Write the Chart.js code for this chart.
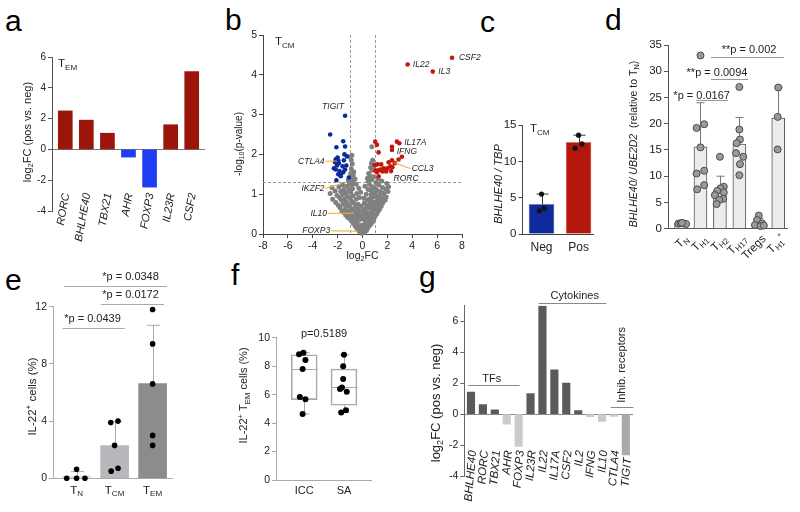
<!DOCTYPE html>
<html>
<head>
<meta charset="utf-8">
<title>Figure</title>
<script src="https://cdn.jsdelivr.net/npm/chart.js@4.4.1/dist/chart.umd.min.js"></script>
<style>
  body { margin: 0; background: #fff; }
  #fig { position: relative; width: 800px; height: 512px; overflow: hidden; font-family: "Liberation Sans", Arial, sans-serif; }
  #fig canvas { position: absolute; }
  .letter { position: absolute; font-size: 30px; line-height: 30px; color: #000; }
</style>
</head>
<body>
<div id="fig">
  <div class="letter" style="left:5px;top:6px">a</div>
  <div class="letter" style="left:225px;top:5px">b</div>
  <div class="letter" style="left:480px;top:7px">c</div>
  <div class="letter" style="left:605px;top:5px">d</div>
  <div class="letter" style="left:5px;top:265px">e</div>
  <div class="letter" style="left:231px;top:260px">f</div>
  <div class="letter" style="left:419px;top:262px">g</div>
  <canvas id="cA" width="210" height="255" style="left:0;top:0"></canvas>
  <canvas id="cB" width="285" height="270" style="left:205px;top:0"></canvas>
  <canvas id="cC" width="120" height="160" style="left:480px;top:100px"></canvas>
  <canvas id="cD" width="200" height="250" style="left:600px;top:20px"></canvas>
  <canvas id="cE" width="200" height="242" style="left:0;top:270px"></canvas>
  <canvas id="cF" width="200" height="242" style="left:200px;top:270px"></canvas>
  <canvas id="cG" width="230" height="242" style="left:420px;top:270px"></canvas>
</div>
<script>
// ---------- data ----------
// a: T_EM, log2FC pos vs neg
const aGenes = ['RORC', 'BHLHE40', 'TBX21', 'AHR', 'FOXP3', 'IL23R', 'CSF2'];
const aLogFC = [2.5, 1.9, 1.05, -0.5, -2.45, 1.6, 5.05];

// b: T_CM volcano [log2FC, -log10 p]
const bUp = [[3.63, 4.26], [5.65, 4.08], [7.2, 4.43], [1.02, 2.32], [1.16, 2.24], [2.77, 2.32], [2.96, 2.28],
  [2.37, 2.19], [2.37, 2.11], [1.29, 2.05], [3.17, 1.94], [2.9, 1.87], [2.37, 1.85], [2.1, 1.8], [1.2, 1.75],
  [1.5, 1.75], [2.25, 1.7], [2.4, 1.68], [1.7, 1.65], [2.0, 1.65], [1.05, 1.6], [1.3, 1.6], [2.3, 1.58],
  [1.6, 1.57], [1.9, 1.57], [1.3, 1.45], [1.0, 1.73], [1.45, 1.62], [2.6, 1.78], [1.15, 1.55]];
const bDown = [[-1.4, 2.97], [-2.6, 2.5], [-1.55, 2.33], [-1.4, 2.2], [-2.1, 2.18], [-2.0, 1.92], [-2.15, 1.88],
  [-1.95, 1.85], [-2.2, 1.8], [-1.9, 1.78], [-1.5, 1.85], [-1.3, 1.72], [-1.6, 1.7], [-2.05, 1.72], [-2.15, 1.62],
  [-1.85, 1.58], [-1.95, 1.5], [-1.7, 1.52], [-1.55, 1.55], [-1.4, 1.62], [-2.1, 1.35], [-1.1, 1.42],
  [-1.75, 1.45], [-1.45, 2.0], [-2.3, 1.65], [-1.25, 1.95]];
const bGray = [
  [-0.05, 0.02], [0.08, 0.03], [-0.18, 0.05], [0.2, 0.06], [-0.3, 0.08], [0.32, 0.09], [0.02, 0.1], [-0.12, 0.12], [0.15, 0.12],
  [-0.45, 0.14], [0.42, 0.15], [-0.25, 0.17], [0.28, 0.18], [-0.6, 0.2], [0.55, 0.21], [-0.1, 0.22], [0.1, 0.23], [-0.38, 0.24], [0.68, 0.25],
  [-0.75, 0.27], [0.4, 0.28], [-0.52, 0.3], [0.8, 0.3], [-0.9, 0.33], [0.22, 0.33], [-0.28, 0.35], [0.58, 0.36], [-0.65, 0.37],
  [0.92, 0.38], [-1.05, 0.39], [0.05, 0.38], [-0.15, 0.4], [0.35, 0.4],
  [-1.2, 0.42], [0.72, 0.42], [-0.82, 0.44], [1.02, 0.45], [-0.45, 0.46], [0.48, 0.47], [-1.35, 0.48], [0.85, 0.49], [-0.98, 0.5],
  [1.15, 0.51], [-0.6, 0.52], [0.62, 0.53], [-1.5, 0.54], [0.3, 0.54], [-0.3, 0.55],
  [-1.65, 0.57], [1.25, 0.57], [-1.12, 0.58], [0.78, 0.59], [-0.75, 0.6], [0.98, 0.61], [-1.4, 0.62], [1.38, 0.63], [-0.9, 0.64],
  [0.5, 0.65], [-1.8, 0.66], [1.12, 0.67], [-0.55, 0.68], [0.68, 0.69], [-1.25, 0.7], [1.5, 0.7],
  [-1.95, 0.72], [0.9, 0.72], [-1.05, 0.73], [1.28, 0.74], [-1.55, 0.75], [0.58, 0.76], [-0.7, 0.77], [1.62, 0.78], [-2.15, 0.79],
  [1.05, 0.8], [-1.3, 0.81], [0.75, 0.82], [-0.88, 0.83], [1.42, 0.84], [-1.7, 0.85], [1.82, 0.85],
  [-2.4, 0.87], [1.2, 0.87], [-1.45, 0.88], [0.62, 0.89], [-1.0, 0.9], [1.55, 0.91], [-1.85, 0.92], [0.85, 0.93], [-1.2, 0.94],
  [1.9, 0.93], [-0.78, 0.96], [1.35, 0.96], [-2.05, 0.97], [1.05, 0.98], [-1.6, 0.99], [0.7, 1.0],
  [-2.6, 1.02], [1.7, 1.02], [-1.35, 1.03], [0.95, 1.04], [-0.95, 1.05], [1.45, 1.06], [-1.75, 1.07], [2.05, 1.07], [-2.2, 1.08],
  [1.2, 1.09], [-1.1, 1.1], [0.65, 1.11], [-1.5, 1.12], [1.85, 1.13], [-0.8, 1.14], [1.0, 1.15],
  [-2.45, 1.16], [1.6, 1.17], [-1.9, 1.18], [0.8, 1.19], [-1.25, 1.2], [2.1, 1.19], [-0.9, 1.22], [1.3, 1.23], [-1.6, 1.24],
  [0.55, 1.25], [-0.7, 1.27], [1.95, 1.27], [-1.05, 1.28], [1.1, 1.29],
  [-0.85, 1.32], [0.45, 1.33], [-1.15, 1.35], [0.75, 1.36], [-0.6, 1.38], [1.25, 1.38], [0.4, 1.4], [-0.95, 1.42], [0.9, 1.44],
  [0.6, 1.46], [-0.75, 1.48], [1.55, 1.33],
  [-0.95, 1.52], [0.5, 1.52], [-0.7, 1.56], [0.78, 1.6], [-0.9, 1.64], [0.65, 1.67], [0.88, 1.72], [-0.82, 1.76], [0.72, 1.78],
  [-0.9, 1.86], [-1.0, 1.94], [0.82, 1.85], [0.75, 2.19], [-0.85, 1.98],
  [-0.4, 0.62], [-0.2, 0.58], [0.05, 0.6], [0.25, 0.64], [-0.35, 0.75], [-0.1, 0.7], [0.15, 0.78], [0.35, 0.72], [-0.5, 0.88],
  [-0.25, 0.92], [0.1, 0.9], [0.4, 0.86], [-0.45, 1.02], [-0.15, 1.05], [0.3, 1.0], [0.45, 1.12], [-0.3, 1.15], [0.2, 1.2],
  [-0.5, 1.25], [0.0, 0.45], [-0.5, 0.35], [0.15, 0.5], [-0.2, 0.48]];
const bXTicks = [-8, -6, -4, -2, 0, 2, 4, 6, 8];
const bNotes = [
  { g: 'TIGIT', x: -1.5, y: 3.2, side: 'right' },
  { g: 'CTLA4', x: -3.05, y: 1.83, side: 'right', to: [-2.05, 1.83] },
  { g: 'IKZF2', x: -3.05, y: 1.15, side: 'right', to: [-1.7, 1.26] },
  { g: 'IL10', x: -2.85, y: 0.52, side: 'right', to: [-0.72, 0.52] },
  { g: 'FOXP3', x: -2.6, y: 0.08, side: 'right', to: [-0.38, 0.07] },
  { g: 'IL22', x: 4.05, y: 4.26, side: 'left' },
  { g: 'IL3', x: 6.1, y: 4.08, side: 'left' },
  { g: 'CSF2', x: 7.75, y: 4.43, side: 'left' },
  { g: 'IL17A', x: 3.35, y: 2.3, side: 'left' },
  { g: 'IFNG', x: 2.75, y: 2.06, side: 'left' },
  { g: 'CCL3', x: 3.95, y: 1.64, side: 'left', to: [2.5, 1.8] },
  { g: 'RORC', x: 2.5, y: 1.4, side: 'left' }];

// c: BHLHE40 / TBP in T_CM
const cGroups = ['Neg', 'Pos'];
const cMean = [4.07, 12.6];
const cErrTop = [5.5, 13.6];
const cPtsY = [[5.5, 3.2, 3.56], [13.6, 11.8, 12.4]];
const cPtsDx = [[0, -0.06, 0.07], [0, -0.09, 0.09]];

// d: BHLHE40/UBE2D2 by subset
const dGroups = [[['T', 0], ['N', 1]], [['T', 0], ['H1', 1]], [['T', 0], ['H2', 1]], [['T', 0], ['H17', 1]], [['Tregs', 0]], [['T', 0], ['H1', 1], ['*', 2]]];
const dMean = [1.0, 15.6, 7.2, 16.1, 1.0, 21.1];
const dErrTop = [1.15, 24.0, 10.0, 21.2, 1.9, 26.9];
const dPtsY = [[0.95, 1.05, 1.0, 0.9, 1.1], [33, 19.9, 19.2, 15.5, 11.05, 10.5, 8.3, 7.5],
  [13.7, 8.0, 7.7, 7.2, 6.9, 6.4, 5.7, 5.5, 4.7], [27, 18.9, 17.0, 16.3, 14.4, 13.7, 12.3, 10.2],
  [2.5, 1.65, 1.0, 0.7, 0.5, 0.6], [26.9, 21.3, 15.1]];
const dPtsDx = [[-0.14, -0.02, 0.12, 0.26, 0.05], [0, 0.19, -0.2, 0, 0.19, -0.2, 0.19, -0.17],
  [0, 0.2, 0.03, -0.14, 0.2, -0.26, 0.17, -0.03, -0.17], [0, 0, 0.03, -0.14, -0.17, 0.2, 0.03, 0],
  [0, -0.09, 0.17, -0.2, 0.09, 0.26], [0, -0.03, -0.03]];
const dStats = [
  { x1: 0.78, x2: 2.43, y: 24.5, label: '*p = 0.0167', tx: 1.06, ty: 24.8 },
  { x1: 1.54, x2: 3.46, y: 28.5, label: '**p = 0.0094', tx: 1.85, ty: 29.1 },
  { x1: 1.54, x2: 5.3, y: 32.8, label: '**p = 0.002', tx: 3.5, ty: 33.4 }];

// e: IL-22+ cells
const eGroups = [[['T', 0], ['N', 1]], [['T', 0], ['CM', 1]], [['T', 0], ['EM', 1]]];
const eMean = [0.15, 2.28, 6.62];
const eErrTop = [0.47, 3.96, 10.7];
const ePtsY = [[0, 0, 0, 0.63], [3.9, 4.0, 2.3, 0.5, 0.7], [11.8, 9.4, 6.6, 3.0, 2.3]];
const ePtsDx = [[-0.26, 0, 0.22, 0], [-0.1, 0.09, 0, -0.09, 0.09], [0, 0, 0, 0, 0]];
const eStats = [
  { x1: -0.37, x2: 1.27, y: 10.5, label: '*p = 0.0439', tx: 0.42, ty: 10.9 },
  { x1: 0.64, x2: 2.3, y: 12.2, label: '*p = 0.0172', tx: 1.42, ty: 12.6 },
  { x1: -0.33, x2: 2.38, y: 13.45, label: '*p = 0.0348', tx: 1.42, ty: 13.85 }];

// f: IL-22+ TEM cells, ICC vs SA
const fGroups = ['ICC', 'SA'];
const fMin = [4.64, 4.75];
const fQ1 = [5.65, 5.25];
const fMed = [7.8, 6.55];
const fQ3 = [8.8, 7.8];
const fMax = [8.95, 8.8];
const fPtsY = [[8.95, 8.83, 8.43, 7.8, 5.83, 5.67, 4.64], [8.8, 8.0, 7.1, 6.5, 6.4, 6.2, 4.9, 4.75]];
const fPtsDx = [[-0.02, -0.13, 0.03, -0.04, -0.11, 0.03, -0.04], [0, -0.02, -0.02, -0.05, -0.1, 0.07, 0.05, -0.07]];

// g: log2FC pos vs neg by gene class
const gGenes = ['BHLHE40', 'RORC', 'TBX21', 'AHR', 'FOXP3', 'IL23R', 'IL22', 'IL17A', 'CSF2', 'IL2', 'IFNG', 'IL10', 'CTLA4', 'TIGIT'];
const gLogFC = [1.42, 0.62, 0.28, -0.65, -2.09, 1.33, 7.0, 2.86, 2.0, 0.23, -0.17, -0.47, -0.15, -2.63];
const gClasses = [
  { label: 'TFs', x1: -0.23, x2: 4.08, y: 1.85, tx: 1.75, ty: 2.06 },
  { label: 'Cytokines', x1: 5.67, x2: 11.36, y: 7.16, tx: 8.71, ty: 7.46 },
  { label: 'Inhib. receptors', x1: 11.73, x2: 13.63, y: 0.45, tx: 12.62, ty: 0.73, vertical: true }];

// ---------- helpers ----------
const FONT = '"Liberation Sans", Arial, sans-serif';
Chart.defaults.font.family = FONT;
Chart.defaults.color = '#222';
Chart.defaults.animation = false;
Chart.defaults.responsive = false;
Chart.defaults.plugins.legend.display = false;
Chart.defaults.plugins.tooltip.enabled = false;

// parts: [text, 0 normal | 1 sub | 2 sup, italic]
function rich(ctx, parts, x, y, size, align) {
  ctx.save();
  ctx.textBaseline = 'alphabetic';
  ctx.textAlign = 'left';
  let w = 0;
  const items = parts.map(([t, k, it]) => {
    const fs = k ? size * 0.7 : size;
    const font = (it ? 'italic ' : '') + fs + 'px ' + FONT;
    ctx.font = font;
    const item = { t, font, dx: w, dy: k === 1 ? size * 0.22 : k === 2 ? -size * 0.38 : 0 };
    w += ctx.measureText(t).width;
    return item;
  });
  const x0 = align === 'center' ? x - w / 2 : align === 'right' ? x - w : x;
  items.forEach(it => { ctx.font = it.font; ctx.fillText(it.t, x0 + it.dx, y + it.dy); });
  ctx.restore();
}

function vrich(ctx, parts, cx, cy, size) {
  ctx.save();
  ctx.translate(cx, cy);
  ctx.rotate(-Math.PI / 2);
  rich(ctx, parts, 0, size * 0.36, size, 'center');
  ctx.restore();
}

function yScale(min, max, step, width, size, color, extra) {
  return Object.assign({
    type: 'linear', min, max,
    ticks: { stepSize: step, font: { size }, padding: 2, color: '#222' },
    grid: { drawOnChartArea: false, tickLength: 4, color, tickColor: color },
    border: { color },
    afterFit: s => { s.width = width; }
  }, extra || {});
}

function pts(ys, dxs) {
  return ys.flatMap((g, i) => g.map((v, k) => ({ x: i + dxs[i][k], y: v })));
}

function errorBars(means, tops, color, cap) {
  return {
    id: 'errorBars',
    afterDatasetDraw(chart, args) {
      if (args.index !== 0) return;
      const { ctx, scales: { x, y } } = chart;
      ctx.save();
      ctx.strokeStyle = color;
      ctx.lineWidth = 1;
      means.forEach((m, i) => {
        const px = Math.round(x.getPixelForValue(i)) + 0.5, y0 = y.getPixelForValue(m), y1 = y.getPixelForValue(tops[i]);
        ctx.beginPath();
        ctx.moveTo(px, y0); ctx.lineTo(px, y1);
        ctx.moveTo(px - cap / 2, y1); ctx.lineTo(px + cap / 2, y1);
        ctx.stroke();
      });
      ctx.restore();
    }
  };
}

function statLines(ctx, x, y, list, color, size) {
  ctx.save();
  ctx.strokeStyle = color;
  ctx.lineWidth = 1;
  ctx.fillStyle = '#222';
  list.forEach(b => {
    const py = Math.round(y.getPixelForValue(b.y)) + 0.5;
    ctx.beginPath();
    ctx.moveTo(x.getPixelForValue(b.x1), py);
    ctx.lineTo(x.getPixelForValue(b.x2), py);
    ctx.stroke();
    rich(ctx, [[b.label, 0]], x.getPixelForValue(b.tx), y.getPixelForValue(b.ty), size, 'center');
  });
  ctx.restore();
}

// ---------- a ----------
new Chart(document.getElementById('cA'), {
  type: 'bar',
  data: {
    datasets: [{
      data: aLogFC.map((v, i) => ({ x: i, y: v })),
      backgroundColor: aLogFC.map(v => v >= 0 ? '#9b150b' : '#1f3df5'),
      barThickness: 14
    }]
  },
  options: {
    layout: { padding: { left: 0, top: 57, right: 5, bottom: 44 } },
    scales: {
      x: { type: 'linear', min: -0.63, max: 6.63, offset: false, display: false },
      y: yScale(-4, 6, 2, 52, 10, '#555', {
        grid: { drawOnChartArea: true, tickLength: 4, tickColor: '#555', color: c => c.tick && c.tick.value === 0 ? '#777' : 'rgba(0,0,0,0)' }
      })
    }
  },
  plugins: [{
    id: 'aText',
    afterDraw(chart) {
      const { ctx, scales: { x, y } } = chart;
      ctx.save();
      ctx.fillStyle = '#222';
      ctx.font = 'italic 11px ' + FONT;
      ctx.textAlign = 'right';
      ctx.textBaseline = 'middle';
      aGenes.forEach((g, i) => {
        ctx.save();
        ctx.translate(x.getPixelForValue(i) + 1, y.getPixelForValue(-2.85));
        ctx.rotate(-80 * Math.PI / 180);
        ctx.fillText(g, 0, 0);
        ctx.restore();
      });
      ctx.restore();
      ctx.fillStyle = '#222';
      rich(ctx, [['T', 0], ['EM', 1]], 58, 67, 11.5, 'left');
      vrich(ctx, [['log', 0], ['2', 1], ['FC (pos vs. neg)', 0]], 27, 132, 11);
    }
  }]
});

// ---------- b ----------
new Chart(document.getElementById('cB'), {
  type: 'scatter',
  data: {
    datasets: [
      { data: bUp.map(([x, y]) => ({ x, y })), backgroundColor: '#c4160c', borderWidth: 0, pointRadius: 2.3, order: 1, clip: false },
      { data: bDown.map(([x, y]) => ({ x, y })), backgroundColor: '#0b2a9e', borderWidth: 0, pointRadius: 2.3, order: 1, clip: false },
      { data: bGray.map(([x, y]) => ({ x, y })), backgroundColor: '#808080', borderWidth: 0, pointRadius: 2.5, order: 3, clip: false }
    ]
  },
  options: {
    layout: { padding: { left: 0, top: 35, right: 28, bottom: 16 } },
    scales: {
      x: {
        type: 'linear', min: -8, max: 8, offset: false,
        afterBuildTicks: s => { s.ticks = bXTicks.map(v => ({ value: v })); },
        ticks: { font: { size: 10.5 }, padding: 2, autoSkip: false, maxRotation: 0, color: '#222' },
        grid: { drawOnChartArea: false, tickLength: 4, color: '#444' },
        border: { color: '#444' },
        afterFit: s => { s.height = 20; }
      },
      y: yScale(0, 5, 1, 58, 10.5, '#444')
    }
  },
  plugins: [{
    id: 'bText',
    beforeDatasetsDraw(chart) {
      const { ctx, chartArea: a, scales: { x, y } } = chart;
      ctx.save();
      ctx.strokeStyle = '#9a9a9a';
      ctx.lineWidth = 1;
      ctx.setLineDash([3, 2]);
      [-1, 1].forEach(v => {
        const px = Math.round(x.getPixelForValue(v)) + 0.5;
        ctx.beginPath(); ctx.moveTo(px, a.top); ctx.lineTo(px, a.bottom); ctx.stroke();
      });
      const py = Math.round(y.getPixelForValue(1.3)) + 0.5;
      ctx.beginPath(); ctx.moveTo(a.left, py); ctx.lineTo(a.right, py); ctx.stroke();
      ctx.restore();
    },
    afterDraw(chart) {
      const { ctx, scales: { x, y } } = chart;
      ctx.save();
      ctx.font = 'italic 8.5px ' + FONT;
      ctx.textBaseline = 'middle';
      ctx.fillStyle = '#222';
      ctx.strokeStyle = '#f5a52a';
      ctx.lineWidth = 1;
      bNotes.forEach(n => {
        const px = x.getPixelForValue(n.x), py = y.getPixelForValue(n.y);
        ctx.textAlign = n.side;
        ctx.fillText(n.g, px, py);
        if (n.to) {
          const tx = x.getPixelForValue(n.to[0]), ty = y.getPixelForValue(n.to[1]);
          ctx.beginPath();
          ctx.moveTo(n.side === 'right' ? px + 1 : px - 1, py);
          ctx.lineTo(tx, ty);
          ctx.stroke();
        }
      });
      ctx.restore();
      ctx.fillStyle = '#222';
      rich(ctx, [['T', 0], ['CM', 1]], 70, 45, 11.5, 'left');
      vrich(ctx, [['-log', 0], ['10', 1], ['(p-value)', 0]], 33, 144, 10);
      rich(ctx, [['log', 0], ['2', 1], ['FC', 0]], x.getPixelForValue(0), 259, 10.5, 'center');
    }
  }]
});

// ---------- c ----------
new Chart(document.getElementById('cC'), {
  type: 'bar',
  data: {
    datasets: [
      { data: cMean.map((v, i) => ({ x: i, y: v })), backgroundColor: ['#0e2a9c', '#b3170b'], borderColor: ['#6f7fc9', '#d9776d'], borderWidth: 1, barThickness: 25, order: 2 },
      { type: 'scatter', data: pts(cPtsY, cPtsDx), backgroundColor: '#111', borderWidth: 0, pointRadius: 2.6, order: 1, clip: false }
    ]
  },
  options: {
    layout: { padding: { left: 0, top: 25, right: 7, bottom: 6 } },
    scales: {
      x: {
        type: 'linear', min: -0.514, max: 1.39, offset: false,
        afterBuildTicks: s => { s.ticks = cGroups.map((_, i) => ({ value: i })); },
        ticks: { callback: v => cGroups[v], font: { size: 12 }, padding: 6, color: '#222' },
        grid: { display: false, drawTicks: false },
        border: { color: '#444' },
        afterFit: s => { s.height = 20; }
      },
      y: yScale(0, 15, 5, 42.5, 11.5, '#444', { })
    }
  },
  plugins: [errorBars(cMean, cErrTop, '#333', 12), {
    id: 'cText',
    afterDraw(chart) {
      const { ctx } = chart;
      ctx.fillStyle = '#222';
      rich(ctx, [['T', 0], ['CM', 1]], 50, 32, 11.5, 'left');
      vrich(ctx, [['BHLHE40 / TBP', 0, true]], 18.5, 84, 11);
    }
  }]
});

// ---------- d ----------
new Chart(document.getElementById('cD'), {
  type: 'bar',
  data: {
    datasets: [
      { data: dMean.map((v, i) => ({ x: i, y: v })), backgroundColor: '#ececec', borderColor: '#555', borderWidth: 1, barThickness: 13, order: 2 },
      { type: 'scatter', data: pts(dPtsY, dPtsDx), backgroundColor: '#9a9a9a', borderColor: '#4a4a4a', borderWidth: 1, pointRadius: 3.5, order: 1, clip: false }
    ]
  },
  options: {
    layout: { padding: { left: 0, top: 25, right: 13, bottom: 41.3 } },
    scales: {
      x: {
        type: 'linear', min: -0.67, max: 5.45, offset: false,
        ticks: { display: false }, grid: { display: false },
        border: { color: '#555' },
        afterFit: s => { s.height = 0; }
      },
      y: yScale(0, 35, 5, 68, 11.5, '#555')
    }
  },
  plugins: [errorBars(dMean, dErrTop, '#777', 8), {
    id: 'dText',
    afterDraw(chart) {
      const { ctx, scales: { x, y } } = chart;
      statLines(ctx, x, y, dStats, '#999', 11);
      ctx.fillStyle = '#222';
      dGroups.forEach((parts, i) => {
        ctx.save();
        ctx.translate(x.getPixelForValue(i) + 5, y.bottom + 8);
        ctx.rotate(-Math.PI / 4);
        rich(ctx, parts, 0, 4, 11.5, 'right');
        ctx.restore();
      });
      vrich(ctx, [['BHLHE40/ UBE2D2', 0, true], ['  (relative to T', 0], ['N', 1], [')', 0]], 33, 124, 10.5);
    }
  }]
});

// ---------- e ----------
new Chart(document.getElementById('cE'), {
  type: 'bar',
  data: {
    datasets: [
      { data: eMean.map((v, i) => ({ x: i, y: v })), backgroundColor: ['#e0e0e0', '#b8b8bc', '#8c8c8c'], barThickness: 28, order: 2 },
      { type: 'scatter', data: pts(ePtsY, ePtsDx), backgroundColor: '#000', borderWidth: 0, pointRadius: 2.8, order: 1, clip: false }
    ]
  },
  options: {
    layout: { padding: { left: 0, top: 36.7, right: 28, bottom: 33.7 } },
    scales: {
      x: {
        type: 'linear', min: -0.62, max: 2.51, offset: false,
        ticks: { display: false }, grid: { display: false },
        border: { color: '#aaa' },
        afterFit: s => { s.height = 0; }
      },
      y: yScale(0, 12, 4, 53, 10.5, '#aaa')
    }
  },
  plugins: [errorBars(eMean, eErrTop, '#aaa', 13), {
    id: 'eText',
    afterDraw(chart) {
      const { ctx, scales: { x, y } } = chart;
      statLines(ctx, x, y, eStats, '#aaa', 11);
      ctx.fillStyle = '#222';
      eGroups.forEach((parts, i) => rich(ctx, parts, x.getPixelForValue(i), y.bottom + 15.5, 11.5, 'center'));
      vrich(ctx, [['IL-22', 0], ['+', 2], [' cells (%)', 0]], 31.5, 126.5, 11.5);
    }
  }]
});

// ---------- f ----------
new Chart(document.getElementById('cF'), {
  type: 'bar',
  data: {
    datasets: [
      { data: fQ1.map((q, i) => ({ x: i, y: [q, fQ3[i]] })), backgroundColor: 'rgba(0,0,0,0)', borderColor: '#aaa', borderWidth: 1, borderSkipped: false, barThickness: 26, order: 2 },
      { type: 'scatter', data: pts(fPtsY, fPtsDx), backgroundColor: '#000', borderWidth: 0, pointRadius: 3, order: 1, clip: false }
    ]
  },
  options: {
    layout: { padding: { left: 0, top: 67.7, right: 29, bottom: 12 } },
    scales: {
      x: {
        type: 'linear', min: -0.71, max: 1.68, offset: false,
        afterBuildTicks: s => { s.ticks = fGroups.map((_, i) => ({ value: i })); },
        ticks: { callback: v => fGroups[v], font: { size: 11 }, padding: 4, color: '#222' },
        grid: { display: false, drawTicks: false },
        border: { color: '#aaa' },
        afterFit: s => { s.height = 20; }
      },
      y: yScale(0, 10, 2, 76, 10.5, '#aaa')
    }
  },
  plugins: [{
    id: 'fBox',
    afterDatasetDraw(chart, args) {
      if (args.index !== 0) return;
      const { ctx, scales: { x, y } } = chart;
      ctx.save();
      ctx.strokeStyle = '#aaa';
      ctx.lineWidth = 1;
      fMed.forEach((m, i) => {
        const px = Math.round(x.getPixelForValue(i)) + 0.5;
        const seg = (x1, y1, x2, y2) => { ctx.beginPath(); ctx.moveTo(x1, y1); ctx.lineTo(x2, y2); ctx.stroke(); };
        const pm = Math.round(y.getPixelForValue(m)) + 0.5;
        seg(px - 13, pm, px + 13, pm);
        seg(px, y.getPixelForValue(fQ3[i]), px, y.getPixelForValue(fMax[i]));
        seg(px, y.getPixelForValue(fQ1[i]), px, y.getPixelForValue(fMin[i]));
        seg(px - 5, y.getPixelForValue(fMax[i]), px + 5, y.getPixelForValue(fMax[i]));
        seg(px - 5, y.getPixelForValue(fMin[i]), px + 5, y.getPixelForValue(fMin[i]));
      });
      ctx.restore();
    },
    afterDraw(chart) {
      const { ctx, scales: { x, y } } = chart;
      ctx.fillStyle = '#222';
      rich(ctx, [['p=0.5189', 0]], x.getPixelForValue(0.5), y.getPixelForValue(10.06), 11, 'center');
      vrich(ctx, [['IL-22', 0], ['+', 2], [' T', 0], ['EM', 1], [' cells (%)', 0]], 43.5, 125.5, 11);
    }
  }]
});

// ---------- g ----------
new Chart(document.getElementById('cG'), {
  type: 'bar',
  data: {
    datasets: [{
      data: gLogFC.map((v, i) => ({ x: i, y: v })),
      backgroundColor: gLogFC.map((v, i) => v >= 0 ? '#5a5a5a' : gGenes[i] === 'TIGIT' ? '#a9a9a9' : '#cbcbcb'),
      barThickness: 7.5
    }]
  },
  options: {
    layout: { padding: { left: 0, top: 35.8, right: 17, bottom: 36 } },
    scales: {
      x: { type: 'linear', min: -0.56, max: 13.6, offset: false, display: false },
      y: yScale(-4, 7, 2, 44.3, 10.5, '#666', {
        afterBuildTicks: s => { s.ticks = s.ticks.filter(t => t.value % 2 === 0); },
        grid: { drawOnChartArea: true, tickLength: 4, tickColor: '#666', color: c => c.tick && c.tick.value === 0 ? '#888' : 'rgba(0,0,0,0)' }
      })
    }
  },
  plugins: [{
    id: 'gText',
    afterDraw(chart) {
      const { ctx, scales: { x, y } } = chart;
      ctx.save();
      ctx.fillStyle = '#222';
      ctx.font = 'italic 11.5px ' + FONT;
      ctx.textAlign = 'right';
      ctx.textBaseline = 'middle';
      gGenes.forEach((g, i) => {
        const top = Math.max(y.getPixelForValue(-2.35), y.getPixelForValue(gLogFC[i]) + 3);
        ctx.save();
        ctx.translate(x.getPixelForValue(i) + 2, top);
        ctx.rotate(-85 * Math.PI / 180);
        ctx.fillText(g, 0, 0);
        ctx.restore();
      });
      ctx.restore();
      ctx.save();
      ctx.strokeStyle = '#888';
      ctx.lineWidth = 1;
      ctx.fillStyle = '#222';
      gClasses.forEach(c => {
        const py = Math.round(y.getPixelForValue(c.y)) + 0.5;
        ctx.beginPath(); ctx.moveTo(x.getPixelForValue(c.x1), py); ctx.lineTo(x.getPixelForValue(c.x2), py); ctx.stroke();
        if (c.vertical) {
          ctx.save();
          ctx.translate(x.getPixelForValue(c.tx), y.getPixelForValue(c.ty));
          ctx.rotate(-Math.PI / 2);
          rich(ctx, [[c.label, 0]], 0, 4, 11, 'left');
          ctx.restore();
        } else {
          rich(ctx, [[c.label, 0]], x.getPixelForValue(c.tx), y.getPixelForValue(c.ty), 11, 'center');
        }
      });
      ctx.restore();
      ctx.fillStyle = '#222';
      vrich(ctx, [['log', 0], ['2', 1], ['FC (pos vs. neg)', 0]], 15, 133, 13);
    }
  }]
});
</script>
</body>
</html>
